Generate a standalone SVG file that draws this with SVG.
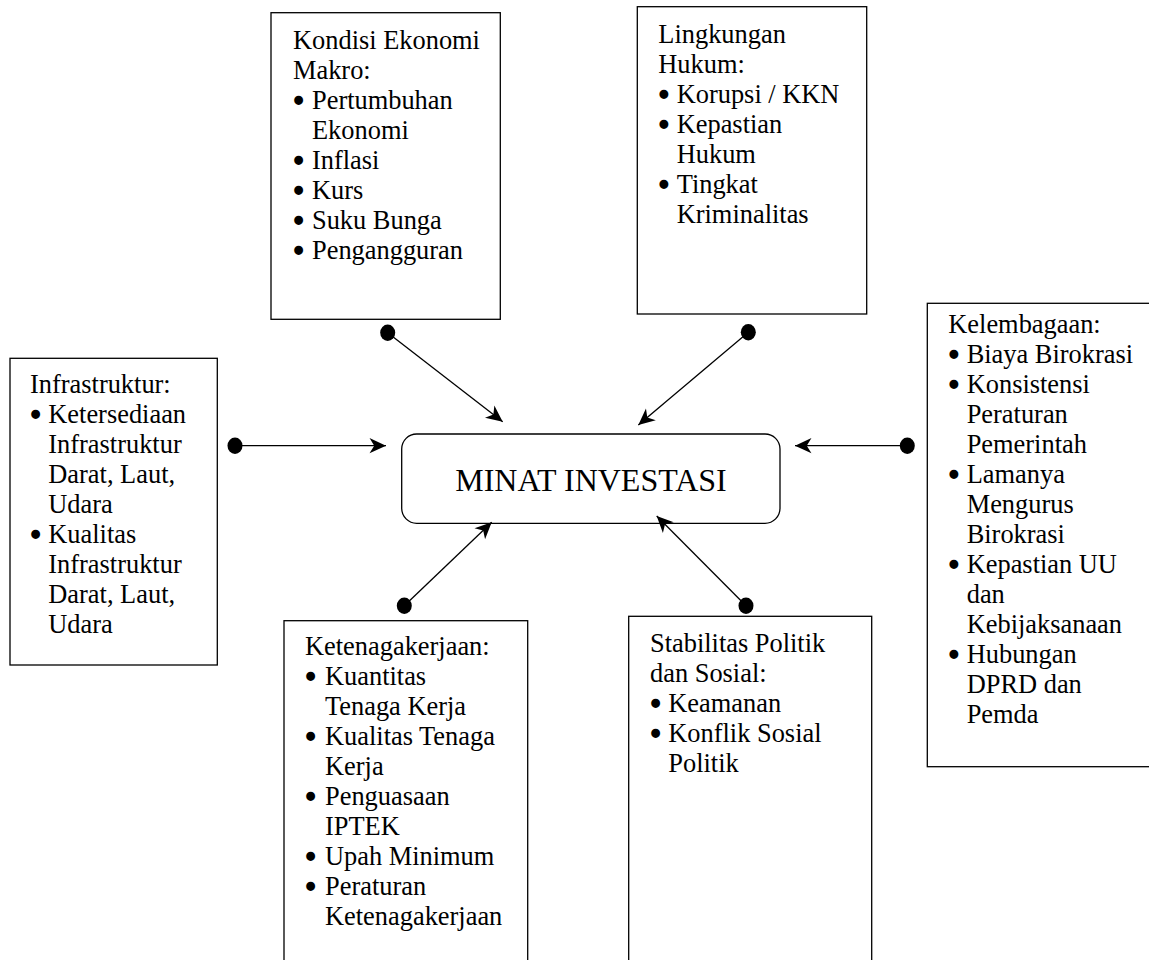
<svg xmlns="http://www.w3.org/2000/svg" width="1149" height="960" viewBox="0 0 1149 960">
<style>
.box{fill:#fff;stroke:#000;stroke-width:1.3}
.t{font-family:"Liberation Serif","Times New Roman",serif;font-size:26.4px;fill:#000}
.b{stroke:#000;stroke-width:2.6}
.big{font-family:"Liberation Serif","Times New Roman",serif;font-size:32px;fill:#000}
.ln{stroke:#000;stroke-width:1.3;fill:none}
.dot{fill:#000}
</style>
<defs>
<marker id="arr" markerUnits="userSpaceOnUse" markerWidth="20" markerHeight="20" viewBox="-15 -8 17 16" refX="0" refY="0" orient="auto">
<path d="M-14,-6.5 L0,0 L-14,6.5 L-10,0 Z" fill="#000"/>
</marker>
</defs>
<rect width="1149" height="960" fill="#fff"/>

<g id="center">
<rect class="box" x="401.7" y="434" width="378.3" height="89.3" rx="15" ry="15"/>
<text class="big" x="591" y="491" text-anchor="middle">MINAT INVESTASI</text>
</g>

<g id="ekonomi">
<rect class="box" x="271" y="12.7" width="229.3" height="306.6"/>
<text class="t">
<tspan x="293" y="49">Kondisi Ekonomi</tspan>
<tspan x="293" y="79">Makro:</tspan>
<tspan class="b" x="294" y="110">•</tspan><tspan x="312" y="109">Pertumbuhan</tspan>
<tspan x="312" y="139">Ekonomi</tspan>
<tspan class="b" x="294" y="170">•</tspan><tspan x="312" y="169">Inflasi</tspan>
<tspan class="b" x="294" y="200">•</tspan><tspan x="312" y="199">Kurs</tspan>
<tspan class="b" x="294" y="230">•</tspan><tspan x="312" y="229">Suku Bunga</tspan>
<tspan class="b" x="294" y="260">•</tspan><tspan x="312" y="259">Pengangguran</tspan>
</text>
</g>

<g id="hukum">
<rect class="box" x="637.3" y="6.7" width="229.4" height="307.3"/>
<text class="t">
<tspan x="658.3" y="43.3">Lingkungan</tspan>
<tspan x="658.3" y="73.3">Hukum:</tspan>
<tspan class="b" x="659.3" y="104.3">•</tspan><tspan x="676.7" y="103.3">Korupsi / KKN</tspan>
<tspan class="b" x="659.3" y="134.3">•</tspan><tspan x="676.7" y="133.3">Kepastian</tspan>
<tspan x="676.7" y="163.3">Hukum</tspan>
<tspan class="b" x="659.3" y="194.3">•</tspan><tspan x="676.7" y="193.3">Tingkat</tspan>
<tspan x="676.7" y="223.3">Kriminalitas</tspan>
</text>
</g>

<g id="infrastruktur">
<rect class="box" x="10" y="358.3" width="207.3" height="306.7"/>
<text class="t">
<tspan x="30" y="393.3">Infrastruktur:</tspan>
<tspan class="b" x="31" y="424.3">•</tspan><tspan x="48.3" y="423.3">Ketersediaan</tspan>
<tspan x="48.3" y="453.3">Infrastruktur</tspan>
<tspan x="48.3" y="483.3">Darat, Laut,</tspan>
<tspan x="48.3" y="513.3">Udara</tspan>
<tspan class="b" x="31" y="544.3">•</tspan><tspan x="48.3" y="543.3">Kualitas</tspan>
<tspan x="48.3" y="573.3">Infrastruktur</tspan>
<tspan x="48.3" y="603.3">Darat, Laut,</tspan>
<tspan x="48.3" y="633.3">Udara</tspan>
</text>
</g>

<g id="kelembagaan">
<rect class="box" x="927.3" y="303.3" width="240" height="463.4"/>
<text class="t">
<tspan x="948.3" y="333.3">Kelembagaan:</tspan>
<tspan class="b" x="949.3" y="364.3">•</tspan><tspan x="966.7" y="363.3">Biaya Birokrasi</tspan>
<tspan class="b" x="949.3" y="394.3">•</tspan><tspan x="966.7" y="393.3">Konsistensi</tspan>
<tspan x="966.7" y="423.3">Peraturan</tspan>
<tspan x="966.7" y="453.3">Pemerintah</tspan>
<tspan class="b" x="949.3" y="484.3">•</tspan><tspan x="966.7" y="483.3">Lamanya</tspan>
<tspan x="966.7" y="513.3">Mengurus</tspan>
<tspan x="966.7" y="543.3">Birokrasi</tspan>
<tspan class="b" x="949.3" y="574.3">•</tspan><tspan x="966.7" y="573.3">Kepastian UU</tspan>
<tspan x="966.7" y="603.3">dan</tspan>
<tspan x="966.7" y="633.3">Kebijaksanaan</tspan>
<tspan class="b" x="949.3" y="664.3">•</tspan><tspan x="966.7" y="663.3">Hubungan</tspan>
<tspan x="966.7" y="693.3">DPRD dan</tspan>
<tspan x="966.7" y="723.3">Pemda</tspan>
</text>
</g>

<g id="ketenagakerjaan">
<rect class="box" x="284" y="620.7" width="243.7" height="360"/>
<text class="t">
<tspan x="305" y="655">Ketenagakerjaan:</tspan>
<tspan class="b" x="306" y="686">•</tspan><tspan x="325" y="685">Kuantitas</tspan>
<tspan x="325" y="715">Tenaga Kerja</tspan>
<tspan class="b" x="306" y="746">•</tspan><tspan x="325" y="745">Kualitas Tenaga</tspan>
<tspan x="325" y="775">Kerja</tspan>
<tspan class="b" x="306" y="806">•</tspan><tspan x="325" y="805">Penguasaan</tspan>
<tspan x="325" y="835">IPTEK</tspan>
<tspan class="b" x="306" y="866">•</tspan><tspan x="325" y="865">Upah Minimum</tspan>
<tspan class="b" x="306" y="896">•</tspan><tspan x="325" y="895">Peraturan</tspan>
<tspan x="325" y="925">Ketenagakerjaan</tspan>
</text>
</g>

<g id="politik">
<rect class="box" x="628.7" y="616.3" width="243" height="360"/>
<text class="t">
<tspan x="650" y="651.7">Stabilitas Politik</tspan>
<tspan x="650" y="681.7">dan Sosial:</tspan>
<tspan class="b" x="651" y="712.7">•</tspan><tspan x="668.3" y="711.7">Keamanan</tspan>
<tspan class="b" x="651" y="742.7">•</tspan><tspan x="668.3" y="741.7">Konflik Sosial</tspan>
<tspan x="668.3" y="771.7">Politik</tspan>
</text>
</g>

<g id="connectors">
<line class="ln" x1="387.7" y1="332.7" x2="502.7" y2="421.7" marker-end="url(#arr)"/>
<line class="ln" x1="748.3" y1="332.3" x2="638.3" y2="425" marker-end="url(#arr)"/>
<line class="ln" x1="235" y1="445.7" x2="386" y2="445.7" marker-end="url(#arr)"/>
<line class="ln" x1="907.3" y1="445.7" x2="795" y2="445.7" marker-end="url(#arr)"/>
<line class="ln" x1="404.3" y1="605.7" x2="491.7" y2="522.3" marker-end="url(#arr)"/>
<line class="ln" x1="746" y1="605.7" x2="656.7" y2="516" marker-end="url(#arr)"/>
<ellipse class="dot" cx="387.7" cy="332.7" rx="7.5" ry="8.2"/>
<ellipse class="dot" cx="748.3" cy="332.3" rx="7.5" ry="8.2"/>
<ellipse class="dot" cx="235" cy="445.7" rx="7.5" ry="8.2"/>
<ellipse class="dot" cx="907.3" cy="445.7" rx="7.5" ry="8.2"/>
<ellipse class="dot" cx="404.3" cy="605.7" rx="7.5" ry="8.2"/>
<ellipse class="dot" cx="746" cy="605.7" rx="7.5" ry="8.2"/>
</g>
</svg>
